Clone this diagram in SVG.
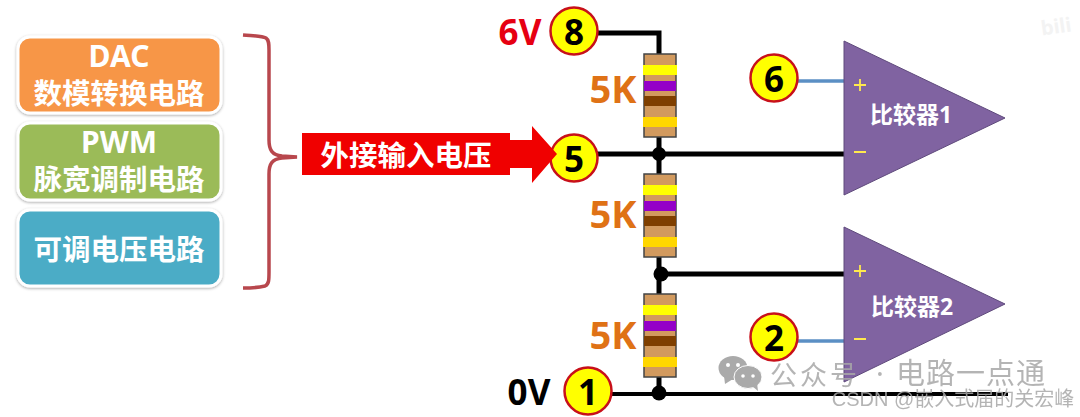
<svg xmlns="http://www.w3.org/2000/svg" width="1080" height="417" viewBox="0 0 1080 417">
<style>
text{font-family:"Noto Sans","Noto Sans CJK SC",sans-serif;text-anchor:middle;dominant-baseline:central;font-weight:700}
.box{stroke:#fff;stroke-width:3;filter:url(#sh)}
.boxt{fill:#fff;font-size:28.5px}
.lat{fill:#fff;font-size:30px}
.wire{fill:none;stroke:#000;stroke-width:5}
.blue{fill:none;stroke:#5b8fc4;stroke-width:3.5}
.dot{fill:#000}
.pin{fill:#ffff00;stroke:#c8101a;stroke-width:2.5}
.pint{fill:#000;font-size:35px}
.body{fill:#d29a5e;stroke:#444;stroke-width:1.5}
.r{font-size:38px;fill:#df7216}
.comp{fill:#8063a1;stroke:#5f4a7c;stroke-width:1}
.compt{fill:#fff;font-size:23px}
.sign{stroke:#ffe94d;stroke-width:1.8;fill:none}
.wm{fill:#a8a8a8;font-weight:400;opacity:.85}
</style>
<defs>
<filter id="sh" x="-10%" y="-15%" width="120%" height="130%"><feDropShadow dx="0" dy="1" stdDeviation="1.5" flood-color="#000" flood-opacity=".35"/></filter>
<g id="res">
<rect class="body" x="644" y="0" width="32" height="83"/>
<rect x="643" y="11" width="34" height="10" fill="#ffff00"/>
<rect x="644" y="27" width="32" height="10" fill="#9400c8"/>
<rect x="644" y="42" width="32" height="10" fill="#7f3f00"/>
<rect x="643" y="63" width="34" height="10" fill="#ffd700"/>
</g>
</defs>
<g id="connectors">
<path class="wire" d="M596 33H659V54"/>
<path class="wire" d="M596 154H844"/>
<path class="wire" d="M659 137V174"/>
<path class="wire" d="M659 257V294"/>
<path class="wire" d="M659 274H844"/>
<path class="wire" d="M659 377V393"/>
<path class="wire" style="stroke-width:4" d="M610 394H1008"/>
<path class="blue" d="M796 81H844"/>
<path class="blue" d="M796 341H844"/>
<path fill="none" stroke="#b8474d" stroke-width="3.5" d="M243 35C255 36 262 36 266 38C269 40 269 44 269 50V140C269 150 272 155 282 156L297 157L282 158C272 159 269 164 269 174V272C269 280 269 284 265 286C261 287 253 288 243 288"/>
</g>
<g id="node-dac"><rect class="box" x="18" y="37" width="203" height="76" rx="12" fill="#f79646"/><text class="lat" x="119" y="55">DAC</text><text class="boxt" x="119" y="93">数模转换电路</text></g>
<g id="node-pwm"><rect class="box" x="18" y="123" width="203" height="77" rx="12" fill="#9bbb59"/><text class="lat" x="119" y="141">PWM</text><text class="boxt" x="119" y="179">脉宽调制电路</text></g>
<g id="node-adj"><rect class="box" x="18" y="210" width="203" height="76" rx="12" fill="#4bacc6"/><text class="boxt" x="119" y="249">可调电压电路</text></g>
<g id="node-r1"><use href="#res" y="54"/><text class="r" x="613" y="88">5K</text></g>
<g id="node-r2"><use href="#res" y="174"/><text class="r" x="613" y="213">5K</text></g>
<g id="node-r3"><use href="#res" y="294"/><text class="r" x="613" y="334">5K</text></g>
<g id="junctions"><circle class="dot" cx="659" cy="154" r="7"/><circle class="dot" cx="661" cy="274" r="7.5"/><circle class="dot" cx="659" cy="393" r="7.5"/></g>
<g id="node-8"><circle class="pin" cx="574" cy="31" r="23.5"/><text class="pint" x="574" y="31">8</text><text x="520" y="31" font-size="35" fill="#e60012">6V</text></g>
<g id="node-5"><circle class="pin" cx="574" cy="158" r="23.5"/><text class="pint" x="574" y="158">5</text></g>
<g id="node-arrow"><path fill="#f00000" d="M302 133H510V140H532V126L557 154L532 183V168H510V175H302Z"/><text x="406" y="155" fill="#fff" font-size="28.5">外接输入电压</text></g>
<g id="node-1"><circle class="pin" cx="588" cy="391" r="23.5"/><text class="pint" x="588" y="391">1</text><text x="529" y="391" font-size="35" fill="#000">0V</text></g>
<g id="node-6"><circle class="pin" cx="774" cy="78" r="23.5"/><text class="pint" x="774" y="78">6</text></g>
<g id="node-2"><circle class="pin" cx="774" cy="337" r="23.5"/><text class="pint" x="774" y="337">2</text></g>
<g id="node-comp1"><path class="comp" d="M844 41L1005 118L844 195Z"/><path class="sign" d="M854 85H866M860 79V91M854 152H866"/><text class="compt" x="911" y="114">比较器1</text></g>
<g id="node-comp2"><path class="comp" d="M844 227L1005 304L844 382Z"/><path class="sign" d="M854 271H866M860 265V277M854 339H866"/><text class="compt" x="912" y="306">比较器2</text></g>
<g id="watermarks">
<ellipse cx="733" cy="368" rx="14.5" ry="12" fill="#aaa"/><path d="M724 376L725 384L733 379Z" fill="#aaa"/>
<ellipse cx="748" cy="377" rx="14" ry="11.5" fill="#aaa" stroke="#fff" stroke-width="1"/><path d="M752 386L758 391L757 383Z" fill="#aaa"/>
<circle cx="728" cy="365" r="2" fill="#fff"/><circle cx="738" cy="365" r="2" fill="#fff"/><circle cx="743" cy="376" r="1.8" fill="#fff"/><circle cx="753" cy="376" r="1.8" fill="#fff"/>
<text class="wm" x="815" y="374" font-size="27" letter-spacing="3">公众号</text>
<text class="wm" x="880" y="372" font-size="29">·</text>
<text class="wm" x="971" y="372" font-size="29" letter-spacing="1">电路一点通</text>
<text class="wm" x="953" y="399" font-size="20" style="font-family:'Liberation Sans','Noto Sans CJK SC',sans-serif" opacity=".75">CSDN @嵌入式届的关宏峰</text>
<text x="1056" y="26" font-size="20" fill="#f3f3f3" transform="rotate(-8 1056 26)">bili</text>
</g>
</svg>
